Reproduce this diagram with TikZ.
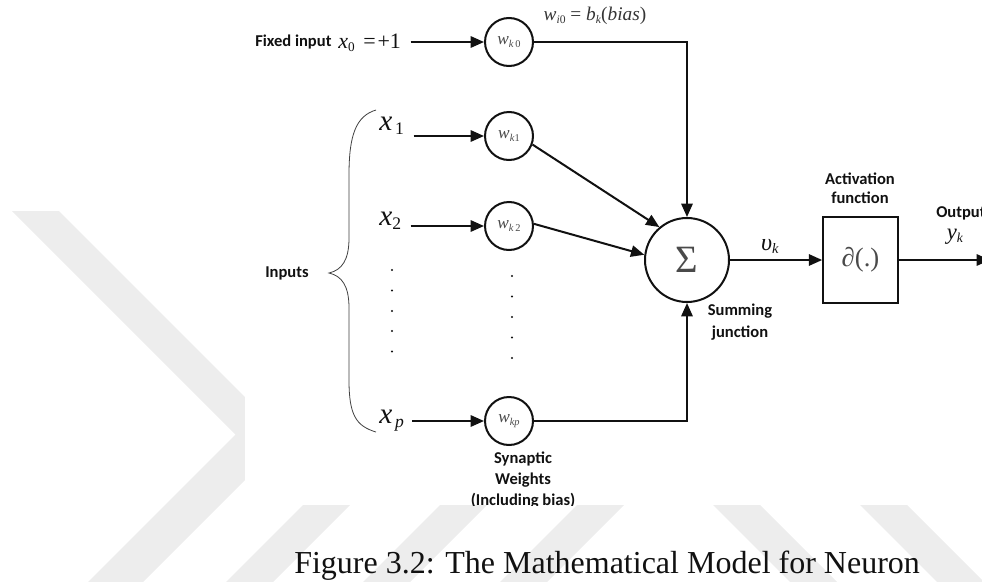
\documentclass[tikz,border=0pt]{standalone}
\usepackage{fontspec}
\setmainfont{Liberation Serif}
\newfontfamily\lblfont{Carlito}
\usetikzlibrary{arrows.meta,calc}

\definecolor{wmark}{HTML}{EDEDED}
\definecolor{ink}{HTML}{111111}
\definecolor{softink}{HTML}{4A4A4A}

% small lowered index for hand-set formulas
\newcommand\lowsub[1]{\raisebox{-0.3ex}{\scalebox{0.6}{#1}}}

\tikzset{
  lbl/.style={font=\lblfont\bfseries\fontsize{12.4}{14}\selectfont, text=ink, inner sep=0},
  wnode/.style={circle, draw=ink, line width=1.5pt, minimum size=36pt, inner sep=0,
                text=softink, font=\fontsize{13}{13}\selectfont},
  sumnode/.style={circle, draw=ink, line width=1.5pt, minimum size=63pt, inner sep=0,
                  text=softink, font=\fontsize{29}{29}\selectfont},
  actnode/.style={rectangle, draw=ink, line width=1.5pt, minimum width=56pt,
                  minimum height=65pt, inner sep=0, text=softink,
                  font=\fontsize{20}{20}\selectfont},
  arr/.style={draw=ink, line width=1.5pt, -{Triangle[length=10pt,width=8.5pt]}},
  mlbl/.style={inner sep=0, text=ink},
}

\begin{document}
\begin{tikzpicture}[x=0.75pt, y=-0.75pt]
\useasboundingbox (0,0) rectangle (982,582);

% --- page watermark -------------------------------------------------
\fill[wmark] (12,211) -- (59,211) -- (286.5,438.5) -- (143,582) -- (88,582)
             -- (235.5,434.5) -- cycle;
\foreach \c in {808,945,1082}
  \fill[wmark] (\c-480,480) -- (\c+47-480,480) -- (\c+47-600,600) -- (\c-600,600) -- cycle;
\foreach \d in {208,355}
  \fill[wmark] (480+\d,480) -- (480+\d+47,480) -- (600+\d+47,600) -- (600+\d,600) -- cycle;

% --- figure area ------------------------------------------------------
\fill[white] (245,0) rectangle (982,505);

\begin{scope}
\clip (245,0) rectangle (982,505);

% weights, summing junction, activation
\node[wnode] (w0) at (509,42)  {\textit{w}\lowsub{\textit{k}\,0}};
\node[wnode] (w1) at (509,136) {\textit{w}\lowsub{\textit{k}1}};
\node[wnode] (w2) at (509,226) {\textit{w}\lowsub{\textit{k}\,2}};
\node[wnode] (wp) at (509,421) {\textit{w}\lowsub{\textit{kp}}};
\node[sumnode] (sig) at (687,260) {Σ};
\node[actnode] (act) at (860.5,260) {∂(.)};

% inputs
\node[lbl, anchor=west] (fixed) at (255,42) {Fixed input};
\node[mlbl, anchor=base west, font=\fontsize{16.5}{17}\selectfont] (x0) at (338,48)
  {\textit{x}\lowsub{0}\hspace{0.4em}=\hspace{0.08em}+1};
\node[mlbl, anchor=base west, font=\fontsize{22}{22}\selectfont] (x1) at (379,130)
  {\textit{x}\hspace{0.1em}\lowsub{1}};
\node[mlbl, anchor=base west, font=\fontsize{22}{22}\selectfont] (x2) at (379,225)
  {\textit{x}\lowsub{2}};
\node[mlbl, anchor=base west, font=\fontsize{22}{22}\selectfont] (xp) at (379,423)
  {\textit{x}\hspace{0.1em}\lowsub{\textit{p}}};
\node[lbl] (inputs) at (287,273) {Inputs};

% brace grouping the inputs
\draw[line width=0.6pt, draw=ink!80]
  (376,110) .. controls (356,116) and (349,135) .. (349,175)
  -- (349,238) .. controls (349,260) and (342,270) .. (329,273)
  .. controls (342,276) and (349,286) .. (349,308)
  -- (349,380) .. controls (349,415) and (356,426) .. (376,432);

% omitted rows
\foreach \y in {270,290.5,311,331,351.5} \fill[ink] (392,\y) circle (0.9pt);
\foreach \y in {276,296.5,317,337.5,358} \fill[ink] (512,\y) circle (0.9pt);

% connectors
\draw[arr, shorten <=7pt] (x0.east |- w0.west) -- (w0.west);
\draw[arr, shorten <=7pt] (x1.east |- w1.west) -- (w1.west);
\draw[arr, shorten <=7pt] (x2.east |- w2.west) -- (w2.west);
\draw[arr, shorten <=6pt] (xp.east |- wp.west) -- (wp.west);
\draw[arr] (w0.east) -| (sig.north);
\draw[arr] (wp.east) -| (sig.south);
\draw[arr] (w1.-20) -- (sig.130);
\draw[arr] (w2.5) -- (sig.173);
\draw[arr] (sig.east) -- (act.west);
\coordinate (out) at (990,260);
\draw[arr] (act.east) -- (out);

% labels
\node[mlbl, text=ink!85, font=\fontsize{14.5}{15}\selectfont] (bias) at (595,16)
  {\textit{w}\lowsub{\textit{i}0}\hspace{0.25em}=\hspace{0.25em}\textit{b}\lowsub{\textit{k}}(\textit{bias})};
\node[mlbl, font=\fontsize{18}{18}\selectfont] (vk) at (770,246) {\textit{υ}\lowsub{\textit{k}}};
\node[lbl, align=center, font=\lblfont\bfseries\fontsize{12.4}{14.3}\selectfont] (actlbl) at (860,188)
  {Activation\\function};
\node[lbl, anchor=west] (outlbl) at (936,213) {Output};
\node[mlbl, font=\fontsize{17}{17}\selectfont] (yk) at (955,237) {\textit{y}\lowsub{\textit{k}}};
\node[lbl, align=center, font=\lblfont\bfseries\fontsize{12.4}{16.5}\selectfont] (sumlbl) at (740,322)
  {Summing\\junction};
\node[lbl, align=center, font=\lblfont\bfseries\fontsize{12.4}{16}\selectfont] (synlbl) at (523,480)
  {Synaptic\\Weights\\(Including bias)};
\end{scope}

% caption
\node[mlbl, anchor=base west, font=\fontsize{24}{24}\selectfont] (caption) at (294,573)
  {Figure 3.2: The Mathematical Model for Neuron};
\end{tikzpicture}
\end{document}
